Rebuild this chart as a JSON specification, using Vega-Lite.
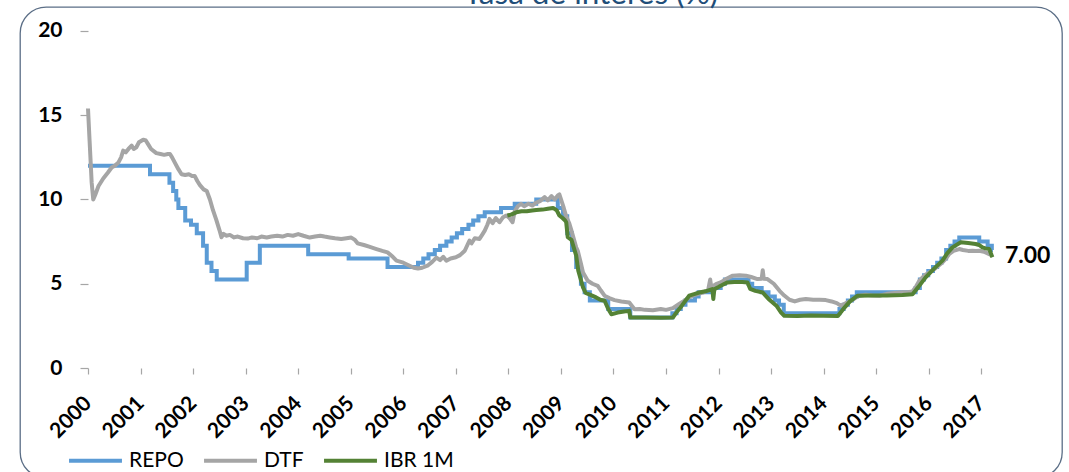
{
  "$schema": "https://vega.github.io/schema/vega-lite/v6.json",
  "width": 1042,
  "height": 471,
  "autosize": "none",
  "padding": {"left": 20, "top": 7, "right": 7, "bottom": 0},
  "background": "white",
  "config": {
    "view": {"stroke": "#5B6E86", "strokeWidth": 1.3, "cornerRadius": 26, "fill": "white"},
    "font": "Lato"
  },
  "title": {
    "text": "Tasa de interés (%)",
    "anchor": "middle",
    "frame": "group",
    "baseline": "alphabetic",
    "offset": 1,
    "dx": 50,
    "dy": 29,
    "font": "Lato",
    "fontSize": 31.5,
    "fontWeight": "normal",
    "color": "#1F4E79"
  },
  "datasets": {
    "rates": [
      {"series": "REPO", "year": 2000.0, "rate": 12.0},
      {"series": "REPO", "year": 2001.18, "rate": 11.5},
      {"series": "REPO", "year": 2001.55, "rate": 11.0},
      {"series": "REPO", "year": 2001.62, "rate": 10.5},
      {"series": "REPO", "year": 2001.68, "rate": 10.0},
      {"series": "REPO", "year": 2001.72, "rate": 9.5},
      {"series": "REPO", "year": 2001.85, "rate": 8.75},
      {"series": "REPO", "year": 2001.96, "rate": 8.5},
      {"series": "REPO", "year": 2002.07, "rate": 8.0},
      {"series": "REPO", "year": 2002.19, "rate": 7.25},
      {"series": "REPO", "year": 2002.26, "rate": 6.25},
      {"series": "REPO", "year": 2002.35, "rate": 5.75},
      {"series": "REPO", "year": 2002.45, "rate": 5.25},
      {"series": "REPO", "year": 2003.02, "rate": 6.25},
      {"series": "REPO", "year": 2003.27, "rate": 7.25},
      {"series": "REPO", "year": 2004.19, "rate": 6.75},
      {"series": "REPO", "year": 2004.96, "rate": 6.5},
      {"series": "REPO", "year": 2005.7, "rate": 6.0},
      {"series": "REPO", "year": 2006.28, "rate": 6.25},
      {"series": "REPO", "year": 2006.38, "rate": 6.5},
      {"series": "REPO", "year": 2006.48, "rate": 6.75},
      {"series": "REPO", "year": 2006.6, "rate": 7.0},
      {"series": "REPO", "year": 2006.7, "rate": 7.25},
      {"series": "REPO", "year": 2006.82, "rate": 7.5},
      {"series": "REPO", "year": 2006.92, "rate": 7.75},
      {"series": "REPO", "year": 2007.02, "rate": 8.0},
      {"series": "REPO", "year": 2007.12, "rate": 8.25},
      {"series": "REPO", "year": 2007.24, "rate": 8.5},
      {"series": "REPO", "year": 2007.33, "rate": 8.75},
      {"series": "REPO", "year": 2007.43, "rate": 9.0},
      {"series": "REPO", "year": 2007.55, "rate": 9.25},
      {"series": "REPO", "year": 2007.86, "rate": 9.5},
      {"series": "REPO", "year": 2008.12, "rate": 9.75},
      {"series": "REPO", "year": 2008.53, "rate": 10.0},
      {"series": "REPO", "year": 2008.94, "rate": 9.5},
      {"series": "REPO", "year": 2009.04, "rate": 9.0},
      {"series": "REPO", "year": 2009.12, "rate": 8.0},
      {"series": "REPO", "year": 2009.21, "rate": 7.0},
      {"series": "REPO", "year": 2009.29, "rate": 6.0},
      {"series": "REPO", "year": 2009.38, "rate": 5.0},
      {"series": "REPO", "year": 2009.45, "rate": 4.5},
      {"series": "REPO", "year": 2009.55, "rate": 4.0},
      {"series": "REPO", "year": 2009.9, "rate": 3.5},
      {"series": "REPO", "year": 2010.32, "rate": 3.0},
      {"series": "REPO", "year": 2011.12, "rate": 3.25},
      {"series": "REPO", "year": 2011.2, "rate": 3.5},
      {"series": "REPO", "year": 2011.28, "rate": 3.75},
      {"series": "REPO", "year": 2011.37, "rate": 4.0},
      {"series": "REPO", "year": 2011.55, "rate": 4.25},
      {"series": "REPO", "year": 2011.62, "rate": 4.5},
      {"series": "REPO", "year": 2011.87, "rate": 4.75},
      {"series": "REPO", "year": 2012.04, "rate": 5.0},
      {"series": "REPO", "year": 2012.12, "rate": 5.25},
      {"series": "REPO", "year": 2012.57, "rate": 5.0},
      {"series": "REPO", "year": 2012.64, "rate": 4.75},
      {"series": "REPO", "year": 2012.82, "rate": 4.5},
      {"series": "REPO", "year": 2012.95, "rate": 4.25},
      {"series": "REPO", "year": 2013.07, "rate": 4.0},
      {"series": "REPO", "year": 2013.15, "rate": 3.75},
      {"series": "REPO", "year": 2013.24, "rate": 3.25},
      {"series": "REPO", "year": 2014.3, "rate": 3.5},
      {"series": "REPO", "year": 2014.38, "rate": 3.75},
      {"series": "REPO", "year": 2014.46, "rate": 4.0},
      {"series": "REPO", "year": 2014.54, "rate": 4.25},
      {"series": "REPO", "year": 2014.63, "rate": 4.5},
      {"series": "REPO", "year": 2015.75, "rate": 4.75},
      {"series": "REPO", "year": 2015.83, "rate": 5.25},
      {"series": "REPO", "year": 2015.91, "rate": 5.5},
      {"series": "REPO", "year": 2015.99, "rate": 5.75},
      {"series": "REPO", "year": 2016.08, "rate": 6.0},
      {"series": "REPO", "year": 2016.16, "rate": 6.25},
      {"series": "REPO", "year": 2016.24, "rate": 6.5},
      {"series": "REPO", "year": 2016.33, "rate": 7.0},
      {"series": "REPO", "year": 2016.41, "rate": 7.25},
      {"series": "REPO", "year": 2016.49, "rate": 7.5},
      {"series": "REPO", "year": 2016.58, "rate": 7.75},
      {"series": "REPO", "year": 2016.96, "rate": 7.5},
      {"series": "REPO", "year": 2017.12, "rate": 7.25},
      {"series": "REPO", "year": 2017.2, "rate": 7.0},
      {"series": "REPO", "year": 2017.22, "rate": 7.0},

      {"series": "DTF", "year": 2000.0, "rate": 15.4},
      {"series": "DTF", "year": 2000.03, "rate": 13.5},
      {"series": "DTF", "year": 2000.07, "rate": 11.0},
      {"series": "DTF", "year": 2000.1, "rate": 10.0},
      {"series": "DTF", "year": 2000.14, "rate": 10.3},
      {"series": "DTF", "year": 2000.2, "rate": 10.8},
      {"series": "DTF", "year": 2000.29, "rate": 11.25},
      {"series": "DTF", "year": 2000.38, "rate": 11.6},
      {"series": "DTF", "year": 2000.45, "rate": 11.9},
      {"series": "DTF", "year": 2000.51, "rate": 12.0},
      {"series": "DTF", "year": 2000.58, "rate": 12.2},
      {"series": "DTF", "year": 2000.63, "rate": 12.5},
      {"series": "DTF", "year": 2000.67, "rate": 12.9},
      {"series": "DTF", "year": 2000.72, "rate": 12.8},
      {"series": "DTF", "year": 2000.77, "rate": 13.0},
      {"series": "DTF", "year": 2000.83, "rate": 13.2},
      {"series": "DTF", "year": 2000.87, "rate": 13.0},
      {"series": "DTF", "year": 2000.92, "rate": 13.1},
      {"series": "DTF", "year": 2000.97, "rate": 13.4},
      {"series": "DTF", "year": 2001.05, "rate": 13.55},
      {"series": "DTF", "year": 2001.1, "rate": 13.5},
      {"series": "DTF", "year": 2001.14, "rate": 13.3},
      {"series": "DTF", "year": 2001.2, "rate": 13.0},
      {"series": "DTF", "year": 2001.3, "rate": 12.75},
      {"series": "DTF", "year": 2001.38, "rate": 12.7},
      {"series": "DTF", "year": 2001.45, "rate": 12.65},
      {"series": "DTF", "year": 2001.52, "rate": 12.7},
      {"series": "DTF", "year": 2001.56, "rate": 12.7},
      {"series": "DTF", "year": 2001.6, "rate": 12.5},
      {"series": "DTF", "year": 2001.65, "rate": 12.2},
      {"series": "DTF", "year": 2001.72, "rate": 11.8},
      {"series": "DTF", "year": 2001.78, "rate": 11.5},
      {"series": "DTF", "year": 2001.85, "rate": 11.45},
      {"series": "DTF", "year": 2001.92, "rate": 11.5},
      {"series": "DTF", "year": 2001.98, "rate": 11.4},
      {"series": "DTF", "year": 2002.03, "rate": 11.4},
      {"series": "DTF", "year": 2002.08, "rate": 11.1},
      {"series": "DTF", "year": 2002.13, "rate": 10.85},
      {"series": "DTF", "year": 2002.2, "rate": 10.6},
      {"series": "DTF", "year": 2002.26, "rate": 10.5},
      {"series": "DTF", "year": 2002.32, "rate": 10.0},
      {"series": "DTF", "year": 2002.38, "rate": 9.35},
      {"series": "DTF", "year": 2002.44, "rate": 8.8},
      {"series": "DTF", "year": 2002.5, "rate": 8.2},
      {"series": "DTF", "year": 2002.54, "rate": 7.76},
      {"series": "DTF", "year": 2002.58, "rate": 7.96},
      {"series": "DTF", "year": 2002.63, "rate": 7.85},
      {"series": "DTF", "year": 2002.7, "rate": 7.9},
      {"series": "DTF", "year": 2002.78, "rate": 7.75},
      {"series": "DTF", "year": 2002.85, "rate": 7.8},
      {"series": "DTF", "year": 2002.95, "rate": 7.7},
      {"series": "DTF", "year": 2003.04, "rate": 7.68},
      {"series": "DTF", "year": 2003.12, "rate": 7.75},
      {"series": "DTF", "year": 2003.22, "rate": 7.7},
      {"series": "DTF", "year": 2003.3, "rate": 7.8},
      {"series": "DTF", "year": 2003.4, "rate": 7.75},
      {"series": "DTF", "year": 2003.49, "rate": 7.8},
      {"series": "DTF", "year": 2003.6, "rate": 7.85},
      {"series": "DTF", "year": 2003.7, "rate": 7.8},
      {"series": "DTF", "year": 2003.8, "rate": 7.9},
      {"series": "DTF", "year": 2003.9, "rate": 7.85},
      {"series": "DTF", "year": 2004.0, "rate": 7.95},
      {"series": "DTF", "year": 2004.1, "rate": 7.85},
      {"series": "DTF", "year": 2004.22, "rate": 7.74},
      {"series": "DTF", "year": 2004.32, "rate": 7.8},
      {"series": "DTF", "year": 2004.42, "rate": 7.85},
      {"series": "DTF", "year": 2004.5, "rate": 7.8},
      {"series": "DTF", "year": 2004.6, "rate": 7.75},
      {"series": "DTF", "year": 2004.7, "rate": 7.7},
      {"series": "DTF", "year": 2004.82, "rate": 7.65},
      {"series": "DTF", "year": 2004.92, "rate": 7.7},
      {"series": "DTF", "year": 2005.01, "rate": 7.74},
      {"series": "DTF", "year": 2005.08, "rate": 7.6},
      {"series": "DTF", "year": 2005.13, "rate": 7.4},
      {"series": "DTF", "year": 2005.25, "rate": 7.3},
      {"series": "DTF", "year": 2005.35, "rate": 7.2},
      {"series": "DTF", "year": 2005.49, "rate": 7.06},
      {"series": "DTF", "year": 2005.6, "rate": 6.95},
      {"series": "DTF", "year": 2005.7, "rate": 6.86},
      {"series": "DTF", "year": 2005.8, "rate": 6.6},
      {"series": "DTF", "year": 2005.87, "rate": 6.37},
      {"series": "DTF", "year": 2006.0, "rate": 6.25},
      {"series": "DTF", "year": 2006.1, "rate": 6.1},
      {"series": "DTF", "year": 2006.2, "rate": 5.95},
      {"series": "DTF", "year": 2006.28, "rate": 5.9},
      {"series": "DTF", "year": 2006.36, "rate": 5.95},
      {"series": "DTF", "year": 2006.46, "rate": 6.07},
      {"series": "DTF", "year": 2006.55, "rate": 6.3},
      {"series": "DTF", "year": 2006.63, "rate": 6.55},
      {"series": "DTF", "year": 2006.7, "rate": 6.4},
      {"series": "DTF", "year": 2006.76, "rate": 6.6},
      {"series": "DTF", "year": 2006.82, "rate": 6.37},
      {"series": "DTF", "year": 2006.9, "rate": 6.5},
      {"series": "DTF", "year": 2007.0, "rate": 6.57},
      {"series": "DTF", "year": 2007.08, "rate": 6.7},
      {"series": "DTF", "year": 2007.17, "rate": 6.96},
      {"series": "DTF", "year": 2007.22, "rate": 7.3},
      {"series": "DTF", "year": 2007.26, "rate": 7.56},
      {"series": "DTF", "year": 2007.3, "rate": 7.4},
      {"series": "DTF", "year": 2007.36, "rate": 7.7},
      {"series": "DTF", "year": 2007.45, "rate": 7.66},
      {"series": "DTF", "year": 2007.5, "rate": 7.9},
      {"series": "DTF", "year": 2007.55, "rate": 8.15},
      {"series": "DTF", "year": 2007.6, "rate": 8.5},
      {"series": "DTF", "year": 2007.64, "rate": 8.85},
      {"series": "DTF", "year": 2007.7, "rate": 8.6},
      {"series": "DTF", "year": 2007.76, "rate": 8.9},
      {"series": "DTF", "year": 2007.83, "rate": 8.65},
      {"series": "DTF", "year": 2007.9, "rate": 8.95},
      {"series": "DTF", "year": 2007.96, "rate": 9.05},
      {"series": "DTF", "year": 2008.02, "rate": 8.9},
      {"series": "DTF", "year": 2008.08, "rate": 8.65},
      {"series": "DTF", "year": 2008.12, "rate": 9.3},
      {"series": "DTF", "year": 2008.18, "rate": 9.6},
      {"series": "DTF", "year": 2008.24, "rate": 9.74},
      {"series": "DTF", "year": 2008.3, "rate": 9.6},
      {"series": "DTF", "year": 2008.38, "rate": 9.75},
      {"series": "DTF", "year": 2008.46, "rate": 9.64},
      {"series": "DTF", "year": 2008.52, "rate": 9.8},
      {"series": "DTF", "year": 2008.6, "rate": 9.9},
      {"series": "DTF", "year": 2008.69, "rate": 10.14},
      {"series": "DTF", "year": 2008.75, "rate": 9.95},
      {"series": "DTF", "year": 2008.82, "rate": 10.2},
      {"series": "DTF", "year": 2008.88, "rate": 10.0},
      {"series": "DTF", "year": 2008.94, "rate": 10.24},
      {"series": "DTF", "year": 2008.97, "rate": 10.3},
      {"series": "DTF", "year": 2009.04, "rate": 9.64},
      {"series": "DTF", "year": 2009.1, "rate": 9.0},
      {"series": "DTF", "year": 2009.16, "rate": 8.57},
      {"series": "DTF", "year": 2009.2, "rate": 8.15},
      {"series": "DTF", "year": 2009.29, "rate": 7.16},
      {"series": "DTF", "year": 2009.32, "rate": 6.96},
      {"series": "DTF", "year": 2009.38, "rate": 6.2},
      {"series": "DTF", "year": 2009.42, "rate": 5.67},
      {"series": "DTF", "year": 2009.51, "rate": 5.18},
      {"series": "DTF", "year": 2009.6, "rate": 5.0},
      {"series": "DTF", "year": 2009.7, "rate": 4.88},
      {"series": "DTF", "year": 2009.76, "rate": 4.6},
      {"series": "DTF", "year": 2009.83, "rate": 4.29},
      {"series": "DTF", "year": 2009.92, "rate": 4.15},
      {"series": "DTF", "year": 2010.02, "rate": 4.03},
      {"series": "DTF", "year": 2010.15, "rate": 3.95},
      {"series": "DTF", "year": 2010.3, "rate": 3.89},
      {"series": "DTF", "year": 2010.4, "rate": 3.49},
      {"series": "DTF", "year": 2010.5, "rate": 3.5},
      {"series": "DTF", "year": 2010.6, "rate": 3.45},
      {"series": "DTF", "year": 2010.75, "rate": 3.43},
      {"series": "DTF", "year": 2010.9, "rate": 3.5},
      {"series": "DTF", "year": 2011.0, "rate": 3.45},
      {"series": "DTF", "year": 2011.13, "rate": 3.55},
      {"series": "DTF", "year": 2011.25, "rate": 3.8},
      {"series": "DTF", "year": 2011.35, "rate": 4.0},
      {"series": "DTF", "year": 2011.44, "rate": 4.19},
      {"series": "DTF", "year": 2011.55, "rate": 4.35},
      {"series": "DTF", "year": 2011.7, "rate": 4.48},
      {"series": "DTF", "year": 2011.8, "rate": 4.6},
      {"series": "DTF", "year": 2011.84, "rate": 5.25},
      {"series": "DTF", "year": 2011.86, "rate": 4.8},
      {"series": "DTF", "year": 2011.95, "rate": 4.98},
      {"series": "DTF", "year": 2012.05, "rate": 5.1},
      {"series": "DTF", "year": 2012.15, "rate": 5.3},
      {"series": "DTF", "year": 2012.27, "rate": 5.48},
      {"series": "DTF", "year": 2012.4, "rate": 5.5},
      {"series": "DTF", "year": 2012.52, "rate": 5.48},
      {"series": "DTF", "year": 2012.62, "rate": 5.4},
      {"series": "DTF", "year": 2012.74, "rate": 5.28},
      {"series": "DTF", "year": 2012.82, "rate": 5.3},
      {"series": "DTF", "year": 2012.84, "rate": 5.8},
      {"series": "DTF", "year": 2012.86, "rate": 5.3},
      {"series": "DTF", "year": 2012.93, "rate": 5.28},
      {"series": "DTF", "year": 2013.05, "rate": 5.0},
      {"series": "DTF", "year": 2013.16, "rate": 4.58},
      {"series": "DTF", "year": 2013.25, "rate": 4.3},
      {"series": "DTF", "year": 2013.35, "rate": 4.05},
      {"series": "DTF", "year": 2013.45, "rate": 3.95},
      {"series": "DTF", "year": 2013.55, "rate": 4.05},
      {"series": "DTF", "year": 2013.66, "rate": 4.09},
      {"series": "DTF", "year": 2013.8, "rate": 4.05},
      {"series": "DTF", "year": 2013.92, "rate": 4.05},
      {"series": "DTF", "year": 2014.04, "rate": 4.03},
      {"series": "DTF", "year": 2014.15, "rate": 3.95},
      {"series": "DTF", "year": 2014.25, "rate": 3.85},
      {"series": "DTF", "year": 2014.33, "rate": 3.69},
      {"series": "DTF", "year": 2014.42, "rate": 3.85},
      {"series": "DTF", "year": 2014.52, "rate": 3.99},
      {"series": "DTF", "year": 2014.6, "rate": 4.15},
      {"series": "DTF", "year": 2014.68, "rate": 4.29},
      {"series": "DTF", "year": 2014.8, "rate": 4.35},
      {"series": "DTF", "year": 2014.92, "rate": 4.3},
      {"series": "DTF", "year": 2015.06, "rate": 4.29},
      {"series": "DTF", "year": 2015.2, "rate": 4.4},
      {"series": "DTF", "year": 2015.35, "rate": 4.45},
      {"series": "DTF", "year": 2015.5, "rate": 4.5},
      {"series": "DTF", "year": 2015.6, "rate": 4.5},
      {"series": "DTF", "year": 2015.69, "rate": 4.54},
      {"series": "DTF", "year": 2015.76, "rate": 4.85},
      {"series": "DTF", "year": 2015.82, "rate": 5.18},
      {"series": "DTF", "year": 2015.92, "rate": 5.5},
      {"series": "DTF", "year": 2016.01, "rate": 5.67},
      {"series": "DTF", "year": 2016.12, "rate": 5.9},
      {"series": "DTF", "year": 2016.26, "rate": 6.27},
      {"series": "DTF", "year": 2016.33, "rate": 6.5},
      {"series": "DTF", "year": 2016.39, "rate": 6.77},
      {"series": "DTF", "year": 2016.47, "rate": 6.95},
      {"series": "DTF", "year": 2016.58, "rate": 7.06},
      {"series": "DTF", "year": 2016.65, "rate": 7.0},
      {"series": "DTF", "year": 2016.75, "rate": 6.95},
      {"series": "DTF", "year": 2016.83, "rate": 6.96},
      {"series": "DTF", "year": 2016.9, "rate": 6.95},
      {"series": "DTF", "year": 2016.96, "rate": 6.96},
      {"series": "DTF", "year": 2017.05, "rate": 6.9},
      {"series": "DTF", "year": 2017.12, "rate": 6.8},
      {"series": "DTF", "year": 2017.21, "rate": 6.67},

      {"series": "IBR 1M", "year": 2007.98, "rate": 9.05},
      {"series": "IBR 1M", "year": 2008.05, "rate": 9.1},
      {"series": "IBR 1M", "year": 2008.15, "rate": 9.24},
      {"series": "IBR 1M", "year": 2008.25, "rate": 9.3},
      {"series": "IBR 1M", "year": 2008.35, "rate": 9.3},
      {"series": "IBR 1M", "year": 2008.45, "rate": 9.35},
      {"series": "IBR 1M", "year": 2008.53, "rate": 9.38},
      {"series": "IBR 1M", "year": 2008.65, "rate": 9.4},
      {"series": "IBR 1M", "year": 2008.75, "rate": 9.45},
      {"series": "IBR 1M", "year": 2008.85, "rate": 9.5},
      {"series": "IBR 1M", "year": 2008.92, "rate": 9.35},
      {"series": "IBR 1M", "year": 2008.97, "rate": 9.05},
      {"series": "IBR 1M", "year": 2009.03, "rate": 8.9},
      {"series": "IBR 1M", "year": 2009.08, "rate": 8.75},
      {"series": "IBR 1M", "year": 2009.1, "rate": 8.65},
      {"series": "IBR 1M", "year": 2009.13, "rate": 7.76},
      {"series": "IBR 1M", "year": 2009.2, "rate": 7.6},
      {"series": "IBR 1M", "year": 2009.29, "rate": 6.67},
      {"series": "IBR 1M", "year": 2009.33, "rate": 5.77},
      {"series": "IBR 1M", "year": 2009.4, "rate": 5.0},
      {"series": "IBR 1M", "year": 2009.42, "rate": 4.78},
      {"series": "IBR 1M", "year": 2009.47, "rate": 4.45},
      {"series": "IBR 1M", "year": 2009.55, "rate": 4.35},
      {"series": "IBR 1M", "year": 2009.67, "rate": 4.19},
      {"series": "IBR 1M", "year": 2009.75, "rate": 4.05},
      {"series": "IBR 1M", "year": 2009.83, "rate": 3.99},
      {"series": "IBR 1M", "year": 2009.9, "rate": 3.5},
      {"series": "IBR 1M", "year": 2009.96, "rate": 3.19},
      {"series": "IBR 1M", "year": 2010.08, "rate": 3.29},
      {"series": "IBR 1M", "year": 2010.2, "rate": 3.35},
      {"series": "IBR 1M", "year": 2010.3, "rate": 3.39},
      {"series": "IBR 1M", "year": 2010.32, "rate": 2.99},
      {"series": "IBR 1M", "year": 2010.6, "rate": 2.99},
      {"series": "IBR 1M", "year": 2010.9, "rate": 2.98},
      {"series": "IBR 1M", "year": 2011.13, "rate": 3.0},
      {"series": "IBR 1M", "year": 2011.2, "rate": 3.3},
      {"series": "IBR 1M", "year": 2011.3, "rate": 3.7},
      {"series": "IBR 1M", "year": 2011.44, "rate": 4.29},
      {"series": "IBR 1M", "year": 2011.55, "rate": 4.4},
      {"series": "IBR 1M", "year": 2011.63, "rate": 4.48},
      {"series": "IBR 1M", "year": 2011.75, "rate": 4.55},
      {"series": "IBR 1M", "year": 2011.88, "rate": 4.68},
      {"series": "IBR 1M", "year": 2011.9, "rate": 4.1},
      {"series": "IBR 1M", "year": 2011.92, "rate": 4.68},
      {"series": "IBR 1M", "year": 2012.05, "rate": 4.9},
      {"series": "IBR 1M", "year": 2012.17, "rate": 5.08},
      {"series": "IBR 1M", "year": 2012.3, "rate": 5.1},
      {"series": "IBR 1M", "year": 2012.45, "rate": 5.1},
      {"series": "IBR 1M", "year": 2012.55, "rate": 5.08},
      {"series": "IBR 1M", "year": 2012.6, "rate": 4.7},
      {"series": "IBR 1M", "year": 2012.7, "rate": 4.58},
      {"series": "IBR 1M", "year": 2012.84, "rate": 4.48},
      {"series": "IBR 1M", "year": 2012.95, "rate": 4.1},
      {"series": "IBR 1M", "year": 2013.1, "rate": 3.7},
      {"series": "IBR 1M", "year": 2013.19, "rate": 3.29},
      {"series": "IBR 1M", "year": 2013.25, "rate": 3.1},
      {"series": "IBR 1M", "year": 2013.5, "rate": 3.09},
      {"series": "IBR 1M", "year": 2013.75, "rate": 3.12},
      {"series": "IBR 1M", "year": 2014.0, "rate": 3.1},
      {"series": "IBR 1M", "year": 2014.27, "rate": 3.09},
      {"series": "IBR 1M", "year": 2014.4, "rate": 3.6},
      {"series": "IBR 1M", "year": 2014.5, "rate": 3.95},
      {"series": "IBR 1M", "year": 2014.64, "rate": 4.29},
      {"series": "IBR 1M", "year": 2014.9, "rate": 4.3},
      {"series": "IBR 1M", "year": 2015.2, "rate": 4.3},
      {"series": "IBR 1M", "year": 2015.5, "rate": 4.33},
      {"series": "IBR 1M", "year": 2015.69, "rate": 4.38},
      {"series": "IBR 1M", "year": 2015.8, "rate": 4.8},
      {"series": "IBR 1M", "year": 2015.94, "rate": 5.38},
      {"series": "IBR 1M", "year": 2016.1, "rate": 5.9},
      {"series": "IBR 1M", "year": 2016.26, "rate": 6.37},
      {"series": "IBR 1M", "year": 2016.35, "rate": 6.8},
      {"series": "IBR 1M", "year": 2016.45, "rate": 7.16},
      {"series": "IBR 1M", "year": 2016.61, "rate": 7.46},
      {"series": "IBR 1M", "year": 2016.75, "rate": 7.42},
      {"series": "IBR 1M", "year": 2016.89, "rate": 7.36},
      {"series": "IBR 1M", "year": 2016.96, "rate": 7.3},
      {"series": "IBR 1M", "year": 2017.02, "rate": 7.16},
      {"series": "IBR 1M", "year": 2017.08, "rate": 7.1},
      {"series": "IBR 1M", "year": 2017.15, "rate": 7.06},
      {"series": "IBR 1M", "year": 2017.21, "rate": 6.57}
    ],
    "lastlabel": [{"year": 2017.22, "rate": 7.0, "label": "7.00"}]
  },
  "encoding": {
    "x": {
      "field": "year",
      "type": "quantitative",
      "scale": {"domain": [1998.706, 2018.535], "nice": false, "zero": false},
      "axis": {
        "values": [2000, 2001, 2002, 2003, 2004, 2005, 2006, 2007, 2008, 2009, 2010, 2011, 2012, 2013, 2014, 2015, 2016, 2017],
        "format": "d",
        "offset": -110,
        "domain": false,
        "grid": false,
        "ticks": true,
        "tickColor": "#A6A6A6",
        "tickSize": 6,
        "tickWidth": 1.2,
        "labelAngle": -45,
        "labelAlign": "right",
        "labelBaseline": "middle",
        "labelPadding": 26,
        "labelFont": "Lato",
        "labelFontSize": 21,
        "labelFontWeight": "bold",
        "labelColor": "#000000",
        "labelOverlap": false,
        "labelBound": false,
        "labelFlush": false,
        "title": null
      }
    },
    "y": {
      "field": "rate",
      "type": "quantitative",
      "scale": {"domain": [-6.528, 21.424], "nice": false, "zero": false},
      "axis": {
        "values": [0, 5, 10, 15, 20],
        "offset": -68,
        "domain": false,
        "grid": false,
        "ticks": true,
        "tickColor": "#A6A6A6",
        "tickSize": 8,
        "tickWidth": 1.2,
        "labelPadding": 18,
        "labelFont": "Lato",
        "labelFontSize": 21,
        "labelFontWeight": "bold",
        "labelColor": "#000000",
        "labelFlush": false,
        "labelBound": false,
        "title": null
      }
    }
  },
  "layer": [
    {
      "data": {"values": [{}]},
      "mark": {"type": "rule", "color": "#A6A6A6", "strokeWidth": 1.2},
      "encoding": {
        "x": {"datum": 2000, "type": "quantitative"},
        "y": {"datum": 0, "type": "quantitative"},
        "y2": {"datum": 20}
      }
    },
    {
      "data": {"values": [{}]},
      "mark": {"type": "rule", "color": "#A6A6A6", "strokeWidth": 1.2},
      "encoding": {
        "x": {"datum": 2000, "type": "quantitative"},
        "x2": {"datum": 2017.22},
        "y": {"datum": 0, "type": "quantitative"}
      }
    },
    {
      "data": {"name": "rates"},
      "transform": [{"filter": "datum.series === 'REPO'"}],
      "mark": {"type": "line", "interpolate": "step-after", "strokeWidth": 4},
      "encoding": {
        "color": {
          "field": "series",
          "type": "nominal",
          "scale": {"domain": ["REPO", "DTF", "IBR 1M"], "range": ["#5B9BD5", "#A5A5A5", "#548235"]},
          "legend": {
            "orient": "none",
            "legendX": 47,
            "legendY": 425,
            "direction": "horizontal",
            "title": null,
            "symbolType": "stroke",
            "symbolSize": 2800,
            "symbolStrokeWidth": 4,
            "labelFont": "Lato",
            "labelFontSize": 21,
            "labelColor": "#000000",
            "labelOffset": 5,
            "columnPadding": 12,
            "padding": 0
          }
        }
      }
    },
    {
      "data": {"name": "rates"},
      "transform": [{"filter": "datum.series === 'DTF'"}],
      "mark": {"type": "line", "strokeWidth": 4, "strokeJoin": "round"},
      "encoding": {
        "color": {"field": "series", "type": "nominal"}
      }
    },
    {
      "data": {"name": "rates"},
      "transform": [{"filter": "datum.series === 'IBR 1M'"}],
      "mark": {"type": "line", "strokeWidth": 4, "strokeJoin": "round"},
      "encoding": {
        "color": {"field": "series", "type": "nominal"}
      }
    },
    {
      "data": {"name": "lastlabel"},
      "mark": {"type": "text", "align": "left", "baseline": "middle", "dx": 12, "dy": 6, "font": "Lato", "fontSize": 23, "fontWeight": "bold", "color": "#000000"},
      "encoding": {
        "text": {"field": "label"}
      }
    }
  ]
}
